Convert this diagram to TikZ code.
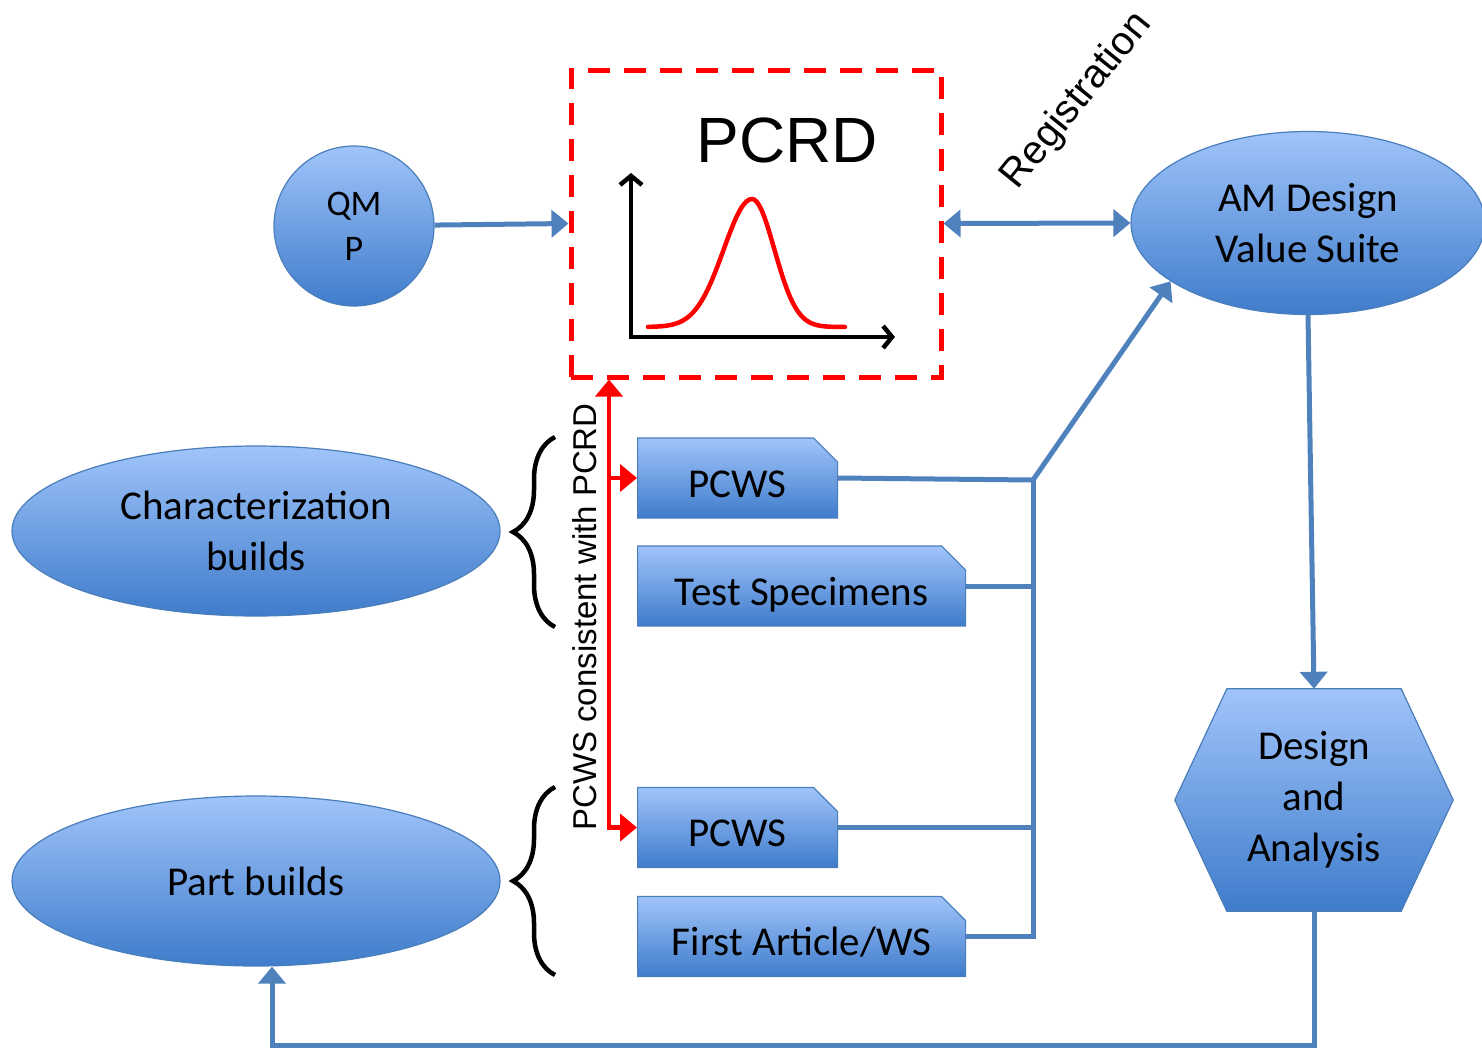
\documentclass[tikz,border=0pt]{standalone}
\usepackage{fontspec}
\setmainfont{Carlito}
\newfontfamily\headfont{Liberation Sans}
\usepackage{tikz}
\usetikzlibrary{positioning,arrows.meta,calc,shapes.geometric,shapes.misc,decorations.pathreplacing,backgrounds}
\usepackage{xcolor}
\definecolor{fillhi}{HTML}{A0C4FA}
\definecolor{filllo}{HTML}{3F7CCB}
\definecolor{edgeblue}{HTML}{4A7EBB}
\definecolor{linkblue}{HTML}{4F81BD}

\begin{document}
\begin{tikzpicture}[
  x=1pt, y=-1pt,
  blob/.style={shade, top color=fillhi, bottom color=filllo, draw=edgeblue, line width=1.2pt, align=center, inner sep=0pt, font=\fontsize{41}{51}\selectfont},
  oval/.style={blob, ellipse, minimum width=488pt, minimum height=170pt},
  card/.style={blob, chamfered rectangle, chamfered rectangle corners=north east, chamfered rectangle xsep=12pt, chamfered rectangle ysep=12pt, minimum height=80pt, text height=38pt, text depth=0pt, anchor=west},
  widecard/.style={card, minimum width=328pt},
  dashbox/.style={draw=red, line width=5pt, dash pattern=on 22pt off 14pt, minimum width=370pt, minimum height=307pt},
  link/.style={draw=linkblue, line width=5pt},
  linkarr/.style={link, -{Triangle[length=17pt,width=27pt]}},
  linkboth/.style={link, {Triangle[length=17pt,width=27pt]}-{Triangle[length=17pt,width=27pt]}},
  redboth/.style={draw=red, line width=4.5pt, {Triangle[length=17pt,width=27pt]}-{Triangle[length=17pt,width=27pt]}},
  redarr/.style={draw=red, line width=4.5pt, -{Triangle[length=17pt,width=27pt]}},
  axis/.style={draw=black, line width=4.5pt, line cap=round, {Straight Barb[length=9pt,width=22pt]}-{Straight Barb[length=9pt,width=22pt]}},
  brc/.style={draw=black, line width=4.5pt, decorate, decoration={brace, amplitude=42pt}}
]
\useasboundingbox (0,0) rectangle (1482,1047);

% nodes
\node[blob, circle, minimum size=160pt, font=\fontsize{36}{45}\selectfont] (qmp) at (354,226) {QM\\P};
\node[dashbox] (pcrd) at (756,223.5) {};
\node[font=\headfont\fontsize{64}{64}\selectfont] (pcrdtitle) at (787,140) {PCRD};
\node[blob, ellipse, minimum width=354pt, minimum height=183pt] (am) at (1308,223) {AM Design\\Value Suite};
\node[font=\headfont\fontsize{40}{40}\selectfont, rotate=51] (reg) at (1077,101) {Registration};

\node[oval] (cb) at (256,531) {Characterization\\builds};
\node[oval] (pb) at (256,881) {Part builds};

\node[card, minimum width=200pt] (pcws1) at (637,478) {PCWS};
\node[widecard] (tests) at (637,586) {Test Specimens};
\node[card, minimum width=200pt] (pcws2) at (637,827.5) {PCWS};
\node[widecard] (first) at (637,936.5) {First Article/WS};

\node[font=\fontsize{41}{51}\selectfont, align=center, minimum width=174pt, minimum height=222pt] (da) at (1314,800) {Design\\and\\Analysis};
\begin{scope}[on background layer]
  \path[shade, top color=fillhi, bottom color=filllo, draw=edgeblue, line width=1.2pt]
    (da.north west) -- (da.north east) -- ([xshift=52pt]da.east) -- (da.south east)
    -- (da.south west) -- ([xshift=-52pt]da.west) -- cycle;
\end{scope}

\node[font=\headfont\fontsize{33}{33}\selectfont, rotate=90] (note) at (585,617) {PCWS consistent with PCRD};

% chart inside PCRD
\coordinate (orig) at (631,337);
\coordinate (ytop) at (631,173);
\coordinate (xend) at (895,337);
\draw[axis] (ytop) -- (orig) -- (xend);
\draw[red, line width=4.5pt, line cap=round]
  plot[domain=648:752, samples=40] (\x, {327-128*exp(-(\x-752)*(\x-752)/1600)})
  -- plot[domain=752:845, samples=40] (\x, {327-128*exp(-(\x-752)*(\x-752)/1000)});

% braces
\draw[brc] (555,627) -- (555,437);
\draw[brc] (555,975) -- (555,787);

% red links
\coordinate (rbot) at ([xshift=-28pt]pcws2.west);
\draw[redboth] (rbot |- pcrd.south) |- (pcws2.west);
\draw[redarr] (rbot |- pcws1.west) -- (pcws1.west);

% blue links
\coordinate (jtop) at (1033,480);
\draw[linkarr] (qmp) -- (pcrd.west);
\draw[linkboth] (pcrd.east) -- (am.west);
\draw[linkarr] (am.south) -- (da.north);
\draw[linkarr] (da.south) -- ++(0,134) -| ([xshift=16pt]pb.south);
\draw[linkarr] (pcws1.east) -- (jtop) -- (am.203);
\draw[link] (tests.east) -- (tests.east -| jtop);
\draw[link] (pcws2.east) -- (pcws2.east -| jtop);
\draw[link] (jtop) -- (jtop |- first.east) -- (first.east);
\end{tikzpicture}
\end{document}
